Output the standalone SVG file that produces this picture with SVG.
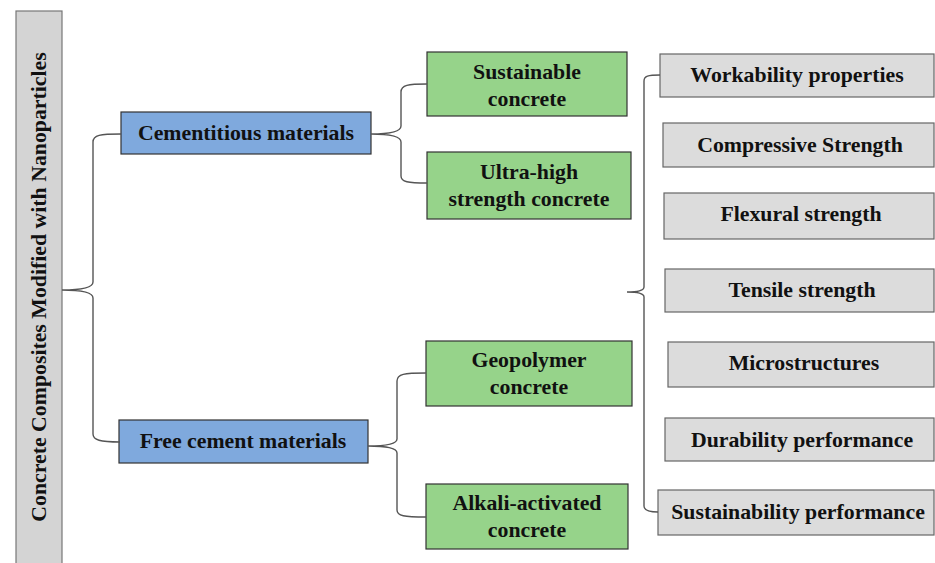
<svg xmlns="http://www.w3.org/2000/svg" width="935" height="563" viewBox="0 0 935 563">
<style>
text{font-family:"Liberation Serif","Times New Roman",serif;font-weight:bold;font-size:21.8px;fill:#111;text-anchor:middle;dominant-baseline:central}
.blue{fill:#7fa9dd;stroke:#333;stroke-width:1.2}
.green{fill:#96d38a;stroke:#333;stroke-width:1.2}
.gray{fill:#dcdcdc;stroke:#666;stroke-width:1.2}
.bar{fill:#d4d4d4;stroke:#777;stroke-width:1.2}
.br{fill:none;stroke:#555;stroke-width:1.4}
</style>
<rect width="935" height="563" fill="#fff"/>
<g id="root">
<rect class="bar" x="16" y="11" width="46" height="560"/>
<text transform="translate(39,287) rotate(-90)" style="font-size:21.8px">Concrete Composites Modified with Nanoparticles</text>
</g>
<g id="cementitious">
<rect class="blue" x="121" y="112" width="250" height="42"/>
<text x="246" y="133">Cementitious materials</text>
</g>
<g id="freecement">
<rect class="blue" x="119" y="420" width="249" height="43"/>
<text x="243" y="441">Free cement materials</text>
</g>
<g id="sustainable">
<rect class="green" x="427" y="52" width="200" height="64"/>
<text x="527" y="72">Sustainable</text>
<text x="527" y="99">concrete</text>
</g>
<g id="uhsc">
<rect class="green" x="427" y="152" width="204" height="67"/>
<text x="529" y="172">Ultra-high</text>
<text x="529" y="199">strength concrete</text>
</g>
<g id="geopolymer">
<rect class="green" x="426" y="341" width="206" height="65"/>
<text x="529" y="360">Geopolymer</text>
<text x="529" y="387">concrete</text>
</g>
<g id="alkali">
<rect class="green" x="426" y="484" width="202" height="65"/>
<text x="527" y="503">Alkali-activated</text>
<text x="527" y="530">concrete</text>
</g>
<g id="workability">
<rect class="gray" x="660" y="54" width="274" height="43"/>
<text x="797" y="75">Workability properties</text>
</g>
<g id="compressive">
<rect class="gray" x="663" y="123" width="271" height="44"/>
<text x="800" y="145">Compressive Strength</text>
</g>
<g id="flexural">
<rect class="gray" x="664" y="193" width="270" height="46"/>
<text x="801" y="214">Flexural strength</text>
</g>
<g id="tensile">
<rect class="gray" x="665" y="269" width="269" height="43"/>
<text x="802" y="290">Tensile strength</text>
</g>
<g id="micro">
<rect class="gray" x="668" y="342" width="266" height="45"/>
<text x="804" y="363">Microstructures</text>
</g>
<g id="durability">
<rect class="gray" x="665" y="418" width="269" height="43"/>
<text x="802" y="440">Durability performance</text>
</g>
<g id="sustperf">
<rect class="gray" x="658" y="490" width="276" height="45"/>
<text x="798" y="512">Sustainability performance</text>
</g>
<g id="connectors">
<path class="br" d="M121,134 C100,134 93,135 93,142 L93,282 C93,288 80,290 62,290 C80,290 93,292 93,298 L93,434 C93,440 100,442 120,442"/>
<path class="br" d="M427,84 C408,84 401,85 401,92 L401,126 C401,132 390,134 371,134 C390,134 401,136 401,142 L401,176 C401,182 408,183 427,183"/>
<path class="br" d="M426,373 C404,373 397,374 397,381 L397,439 C397,444 388,446 368,446 C388,446 397,448 397,453 L397,510 C397,516 404,517 426,517"/>
<path class="br" d="M660,75 C648,75 644,76 644,81 L644,287 C644,290 638,292 627,292 C638,292 644,294 644,297 L644,506 C644,510 648,512 658,512"/>
</g>
</svg>
